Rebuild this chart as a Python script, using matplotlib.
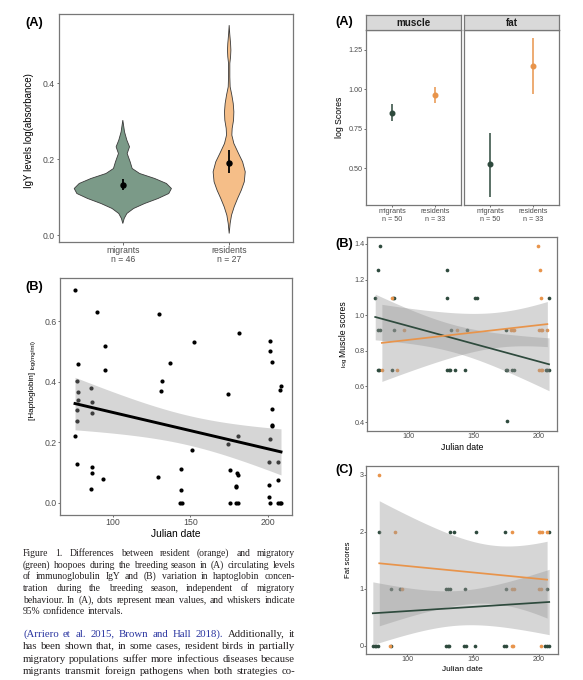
import math

import numpy as np
import matplotlib
matplotlib.use("Agg")
import matplotlib.pyplot as plt
from matplotlib.font_manager import FontProperties

# ---------------- data ----------------
groups = ["migrants", "residents"]
igy_n = [46, 27]
score_n = [50, 33]

# violin outlines (y value, half width in category units)
mig_violin_y = [0.3026, 0.2719, 0.2500, 0.2325, 0.2149, 0.1930, 0.1754, 0.1623, 0.1491,
                0.1360, 0.1228, 0.1096, 0.0965, 0.0833, 0.0702, 0.0570, 0.0439, 0.0307]
mig_violin_w = [0.0, 0.016, 0.038, 0.063, 0.041, 0.069, 0.088, 0.158, 0.300,
                0.410, 0.457, 0.432, 0.331, 0.205, 0.101, 0.038, 0.013, 0.0]
res_violin_y = [0.5526, 0.5307, 0.5044, 0.4868, 0.4693, 0.4518, 0.4167, 0.3904, 0.3684,
                0.3465, 0.3246, 0.3026, 0.2807, 0.2632, 0.2412, 0.2149, 0.1930, 0.1667,
                0.1404, 0.1184, 0.0965, 0.0746, 0.0526, 0.0307, 0.0044]
res_violin_w = [0.0, 0.005, 0.013, 0.016, 0.013, 0.006, 0.006, 0.009, 0.025,
                0.038, 0.044, 0.041, 0.028, 0.025, 0.044, 0.088, 0.126, 0.151,
                0.142, 0.114, 0.079, 0.047, 0.022, 0.009, 0.0]
igy_mean = [0.133, 0.190]
igy_lo = [0.120, 0.164]
igy_hi = [0.147, 0.224]

# haptoglobin vs julian date
hapto_day = [75.5, 89.5, 129.9, 94.6, 77.6, 94.6, 137.0, 76.6, 131.8, 85.6, 131.0, 77.6,
             77.6, 86.6, 76.6, 86.6, 76.6, 75.5, 76.6, 86.6, 86.6, 93.5, 128.8, 85.6,
             152.0, 181.3, 201.5, 201.5, 202.4, 208.4, 207.5, 174.2, 202.4, 202.4, 202.4,
             180.4, 201.5, 174.2, 151.0, 143.9, 175.3, 200.5, 206.5, 180.0, 180.9, 206.5,
             179.1, 179.3, 200.5, 143.9, 200.5,
             143.4, 144.4, 175.3, 179.1, 180.4, 201.5, 206.5, 207.5, 208.4]
hapto_val = [0.703, 0.630, 0.623, 0.518, 0.457, 0.438, 0.463, 0.401, 0.401, 0.380, 0.370, 0.365,
             0.340, 0.332, 0.307, 0.297, 0.270, 0.220, 0.128, 0.118, 0.098, 0.078, 0.086, 0.045,
             0.532, 0.559, 0.533, 0.500, 0.466, 0.386, 0.372, 0.360, 0.310, 0.258, 0.253,
             0.221, 0.210, 0.195, 0.175, 0.113, 0.110, 0.136, 0.136, 0.099, 0.091, 0.076,
             0.055, 0.053, 0.058, 0.043, 0.021,
             0.0, 0.0, 0.0, 0.0, 0.0, 0.0, 0.0, 0.0, 0.0]

# log scores, mean and 95% CI
facets = ["muscle", "fat"]
score_mean = {"muscle": [0.851, 0.966], "fat": [0.523, 1.148]}
score_lo = {"muscle": [0.799, 0.915], "fat": [0.317, 0.968]}
score_hi = {"muscle": [0.905, 1.013], "fat": [0.724, 1.324]}

# log muscle scores vs julian date
mus_mig_day = [78.2, 76.9, 129.7, 74.4, 87.7, 88.5, 129.7, 151.3, 152.3, 207.4,
               76.9, 78.2, 88.5, 132.8, 144.6, 174.4,
               76.2, 77.4, 87.2, 129.7, 130.8, 132.0, 135.4, 143.3, 174.4, 175.6, 179.5,
               180.8, 205.0, 206.4, 207.7, 175.1]
mus_mig_val = [1.386, 1.253, 1.253, 1.099, 1.099, 1.099, 1.099, 1.099, 1.099, 1.099,
               0.916, 0.916, 0.916, 0.916, 0.916, 0.916,
               0.693, 0.693, 0.693, 0.693, 0.693, 0.693, 0.693, 0.693, 0.693, 0.693, 0.693,
               0.693, 0.693, 0.693, 0.693, 0.405]
mus_res_day = [199.5, 200.5, 87.2, 201.8, 96.2, 137.4, 178.5, 179.7, 181.0, 200.0, 201.3,
               202.6, 206.4, 79.5, 91.3, 200.0, 201.3, 202.6]
mus_res_val = [1.386, 1.253, 1.099, 1.099, 0.916, 0.916, 0.916, 0.916, 0.916, 0.916, 0.916,
               0.916, 0.916, 0.693, 0.693, 0.693, 0.693, 0.693]

# fat scores vs julian date
fat_mig_day = [78.7, 132.8, 135.4, 152.3, 174.4, 208.0,
               87.7, 94.4, 129.5, 130.8, 132.6, 143.6, 175.1, 206.4,
               73.8, 75.1, 76.4, 77.7, 87.7, 129.5, 130.8, 132.0, 143.0, 144.4, 151.3,
               173.8, 175.1, 205.0, 206.4, 207.7]
fat_mig_val = [2, 2, 2, 2, 2, 2,
               1, 1, 1, 1, 1, 1, 1, 1,
               0, 0, 0, 0, 0, 0, 0, 0, 0, 0, 0, 0, 0, 0, 0, 0]
fat_res_day = [78.7, 90.8, 179.5, 200.0, 201.3, 202.6, 206.4,
               96.2, 179.7, 181.0, 200.0, 201.8, 86.7, 179.5, 180.8, 202.0]
fat_res_val = [3, 2, 2, 2, 2, 2, 2, 1, 1, 1, 1, 1, 0, 0, 0, 0]

caption_lines = [
    "Figure 1. Differences between resident (orange) and migratory",
    "(green) hoopoes during the breeding season in (A) circulating levels",
    "of immunoglobulin IgY and (B) variation in haptoglobin concen-",
    "tration during the breeding season, independent of migratory",
    "behaviour. In (A), dots represent mean values, and whiskers indicate",
    "95% confidence intervals.",
]
body_lines = [
    "(Arriero et al. 2015, Brown and Hall 2018). Additionally, it",
    "has been shown that, in some cases, resident birds in partially",
    "migratory populations suffer more infectious diseases because",
    "migrants transmit foreign pathogens when both strategies co-",
]
n_cited_words = 8  # words of the first body line set as a blue citation link

# ---------------- styling ----------------
GREEN_FILL = "#7b9a88"
ORANGE_FILL = "#f5be88"
GREEN = "#2e4a3d"
ORANGE = "#e8944b"
BORDER = "#777777"
TICK_TXT = "#4d4d4d"
SANS = "Liberation Sans"
SERIF = "Liberation Serif"
TEXT_COL = "#231f20"
LINK_COL = "#2a35a0"
plt.rcParams["font.family"] = [SANS, "DejaVu Sans"]

W, H = 583, 680
fig = plt.figure(figsize=(W / 100, H / 100), dpi=100)
renderer = fig.canvas.get_renderer()


def fx(px):
    return px / W


def fy(py):
    return 1 - py / H


def px_axes(l, t, r, b):
    return fig.add_axes([fx(l), fy(b), (r - l) / W, (b - t) / H])


def style(ax, size, length=1.6, pad=1.0):
    for s in ax.spines.values():
        s.set_color(BORDER)
        s.set_linewidth(0.9)
    ax.tick_params(length=length, width=0.5, color="#333333", labelsize=size,
                   labelcolor=TICK_TXT, pad=pad)


def lm_band(x, y, n=100):
    x = np.asarray(x, float)
    y = np.asarray(y, float)
    b, a = np.polyfit(x, y, 1)
    xs = np.linspace(x.min(), x.max(), n)
    fit = a + b * xs
    dof = len(x) - 2
    s = np.sqrt(np.sum((y - (a + b * x)) ** 2) / dof)
    se = s * np.sqrt(1 / len(x) + (xs - x.mean()) ** 2 / np.sum((x - x.mean()) ** 2))
    t = 1.96 + 2.37 / dof + 2.8 / dof ** 2
    return xs, fit, fit - t * se, fit + t * se


def ylabel_parts(parts, x_base, y_center):
    # parts: list of (text, size); drawn bottom to top sharing one baseline
    lens = []
    for txt, size in parts:
        t = fig.text(0, 0, txt, fontsize=size)
        lens.append(t.get_window_extent(renderer).width)
        t.remove()
    y = y_center + sum(lens) / 2
    for (txt, size), ln in zip(parts, lens):
        fig.text(fx(x_base), fy(y), txt, fontsize=size, rotation=90,
                 rotation_mode="anchor", ha="left", va="baseline")
        y -= ln


def panel_tag(txt, x, y):
    fig.text(fx(x), fy(y), txt, fontsize=9.3, fontweight="bold", ha="center", va="center")


# ---------------- left (A): violins ----------------
ax = px_axes(59, 14, 293, 242)
style(ax, 6.2, 1.8, 1.2)
pos = [1, 2]
for c, yy, ww, fc in [(1, mig_violin_y, mig_violin_w, GREEN_FILL),
                      (2, res_violin_y, res_violin_w, ORANGE_FILL)]:
    yy = np.array(yy)
    ww = np.array(ww)
    ax.fill(np.concatenate([c - ww, (c + ww)[::-1]]), np.concatenate([yy, yy[::-1]]),
            facecolor=fc, edgecolor="#3a3a3a", lw=0.6, zorder=2)
ax.errorbar(pos, igy_mean,
            yerr=[np.subtract(igy_mean, igy_lo), np.subtract(igy_hi, igy_mean)],
            fmt="o", color="black", ms=3.6, elinewidth=1.3, capsize=0, zorder=3)
ax.set_xlim(0.4, 2.6)
ax.set_ylim(-0.018, 0.582)
ax.set_yticks([0.0, 0.2, 0.4])
ax.set_xticks(pos)
ax.set_xticklabels([f"{g}\nn = {n}" for g, n in zip(groups, igy_n)], linespacing=1.0)
ylabel_parts([("IgY levels log(absorbance)", 7.0)], 32, 131)
panel_tag("(A)", 34, 23)

# ---------------- left (B): haptoglobin ----------------
ax = px_axes(60, 278, 292, 515)
style(ax, 6.3, 1.6, 0.8)
ax.scatter(hapto_day, hapto_val, s=9, color="black", lw=0, zorder=2)
xs, fit, lo, hi = lm_band(hapto_day, hapto_val)
ax.fill_between(xs, lo, hi, color="#999999", alpha=0.4, lw=0, zorder=3)
ax.plot(xs, fit, color="black", lw=2.1, zorder=4)
ax.set_xlim(65.8, 215.5)
ax.set_ylim(-0.04, 0.742)
ax.set_xticks([100, 150, 200])
ax.set_yticks([0.0, 0.2, 0.4, 0.6])
ax.set_yticklabels(["0.0", "0.2", "0.4", "0.6"])
fig.text(fx(176), fy(534), "Julian date", fontsize=7.4, ha="center", va="center")
ylabel_parts([("[Haptoglobin] ", 5.9), ("log(mg/ml)", 4.4)], 34.5, 380)
panel_tag("(B)", 34, 287)

# ---------------- right (A): log scores facets ----------------
for facet, (l, r) in zip(facets, [(366, 461), (464, 559)]):
    ax = px_axes(l, 30, r, 205)
    style(ax, 5.2, 1.4, 0.8)
    for i, col in enumerate([GREEN, ORANGE]):
        m = score_mean[facet][i]
        ax.errorbar([pos[i]], [m],
                    yerr=[[m - score_lo[facet][i]], [score_hi[facet][i] - m]],
                    fmt="o", color=col, ms=3.3, elinewidth=1.1, capsize=0)
    ax.set_xlim(0.4, 2.6)
    ax.set_ylim(0.265, 1.377)
    ax.set_xticks(pos)
    ax.set_xticklabels([f"{g}\nn = {n}" for g, n in zip(groups, score_n)], linespacing=1.15)
    ax.set_yticks([0.5, 0.75, 1.0, 1.25])
    if facet == "muscle":
        ax.set_yticklabels(["0.50", "0.75", "1.00", "1.25"])
    else:
        ax.tick_params(axis="y", left=False, labelleft=False)
    st = px_axes(l, 15, r, 30)
    st.set_facecolor("#d9d9d9")
    for s in st.spines.values():
        s.set_color(BORDER)
        s.set_linewidth(0.9)
    st.set_xticks([])
    st.set_yticks([])
    st.text(0.5, 0.47, facet, transform=st.transAxes, ha="center", va="center",
            fontsize=7.1, fontweight="bold", color="#1a1a1a")
ylabel_parts([("log Scores", 6.3)], 341.5, 117.5)
panel_tag("(A)", 344, 22.5)


# ---------------- right (B): muscle scores vs date ----------------
def trend_panel(ax, series, xlim, ylim):
    for day, val, col in series:
        ax.scatter(day, val, s=7, color=col, lw=0, zorder=2)
    for day, val, col in series:
        xs, fit, lo, hi = lm_band(day, val)
        ax.fill_between(xs, lo, hi, color="#999999", alpha=0.4, lw=0, zorder=3)
    for day, val, col in series:
        xs, fit, lo, hi = lm_band(day, val)
        ax.plot(xs, fit, color=col, lw=1.25, zorder=4)
    ax.set_xlim(*xlim)
    ax.set_ylim(*ylim)
    ax.set_xticks([100, 150, 200])


ax = px_axes(367, 237, 557, 431)
style(ax, 5.2, 1.2, 0.5)
trend_panel(ax, [(mus_mig_day, mus_mig_val, GREEN), (mus_res_day, mus_res_val, ORANGE)],
            (68.1, 213.8), (0.35, 1.439))
ax.set_yticks([0.4, 0.6, 0.8, 1.0, 1.2, 1.4])
fig.text(fx(462), fy(447), "Julian date", fontsize=6.3, ha="center", va="center")
ylabel_parts([("log ", 4.5), ("Muscle scores", 6.2)], 346, 334)
panel_tag("(B)", 344, 243.5)

# ---------------- right (C): fat scores vs date ----------------
ax = px_axes(366, 466, 558, 654)
style(ax, 5.2, 1.2, 0.5)
trend_panel(ax, [(fat_mig_day, fat_mig_val, GREEN), (fat_res_day, fat_res_val, ORANGE)],
            (68.6, 214.7), (-0.145, 3.157))
ax.set_yticks([0, 1, 2, 3])
fig.text(fx(462), fy(669.5), "Julian date", fontsize=6.0, ha="center", va="center")
ylabel_parts([("Fat scores", 5.6)], 350.5, 560)
panel_tag("(C)", 344, 469.5)

# ---------------- caption and body text (justified, word by word) ----------------
X0, X1 = 23, 295


def text_width(s, size):
    t = fig.text(0, 0, s, fontsize=size, family=SERIF)
    w = t.get_window_extent(renderer).width
    t.remove()
    return w


def fit_size(lines, base):
    # a size that lets the widest line fit with ordinary spacing
    widest = max(text_width(line, base) for line in lines)
    return base * (X1 - X0) * 0.985 / widest


def word_y(word, row, size):
    # y (pixels from top) that puts the word's baseline on pixel row `row`
    # once the Agg backend has snapped the glyph bitmap to whole pixels
    prop = FontProperties(family=SERIF, size=size)
    _, h, d = renderer.get_text_width_height_descent(word, prop, ismath=False)
    a = h - d
    return row + math.floor(a + d) - math.floor(a) - d


def justified(tokens, row, size, justify=True):
    widths = [text_width(w, size) for w, c in tokens]
    space = text_width("x x", size) - text_width("xx", size)
    gap = (X1 - X0 - sum(widths)) / (len(tokens) - 1) if justify else space
    x = X0
    for (w, c), wd in zip(tokens, widths):
        fig.text(fx(x), fy(word_y(w, row, size)), w, fontsize=size, family=SERIF,
                 color=c, ha="left", va="baseline")
        x += wd + gap


cap_size = fit_size(caption_lines, 7.0)
cap_rows = [556, 568, 579, 591, 603, 614]
for i, (line, row) in enumerate(zip(caption_lines, cap_rows)):
    toks = [(w, TEXT_COL) for w in line.split()]
    justified(toks, row, cap_size, justify=i < len(caption_lines) - 1)

body_size = fit_size(body_lines, 7.5)
body_rows = [637, 649, 662, 674]
for i, (line, row) in enumerate(zip(body_lines, body_rows)):
    words = line.split()
    toks = [(w, LINK_COL if (i == 0 and j < n_cited_words) else TEXT_COL)
            for j, w in enumerate(words)]
    justified(toks, row, body_size)

fig.savefig("out.png", dpi=100)
